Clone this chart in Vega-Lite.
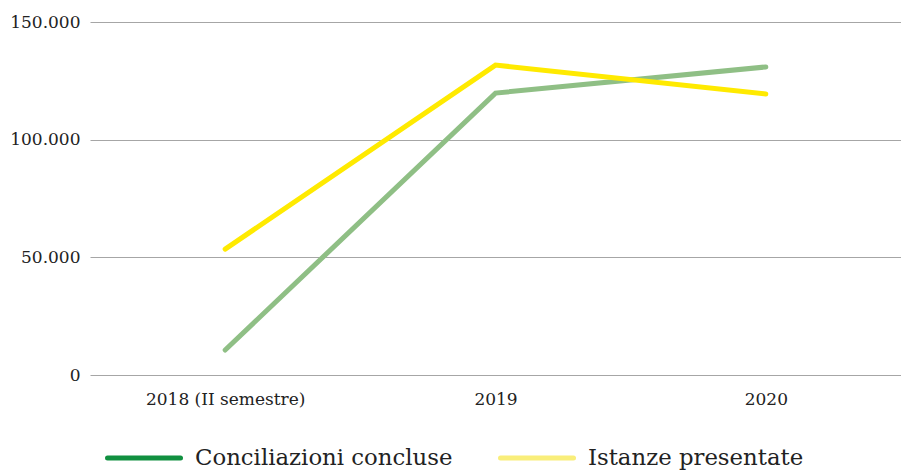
{
  "$schema": "https://vega.github.io/schema/vega-lite/v6.json",
  "width": 811,
  "height": 353,
  "autosize": "none",
  "padding": {"left": 90, "top": 22, "right": 0, "bottom": 95},
  "background": "white",
  "data": {
    "values": [
      {"anno": "2018 (II semestre)", "serie": "Conciliazioni concluse", "valore": 10600},
      {"anno": "2019", "serie": "Conciliazioni concluse", "valore": 119800},
      {"anno": "2020", "serie": "Conciliazioni concluse", "valore": 130900},
      {"anno": "2018 (II semestre)", "serie": "Istanze presentate", "valore": 53500},
      {"anno": "2019", "serie": "Istanze presentate", "valore": 131700},
      {"anno": "2020", "serie": "Istanze presentate", "valore": 119400}
    ]
  },
  "encoding": {
    "x": {
      "field": "anno", "type": "ordinal", "sort": null,
      "scale": {"type": "point", "padding": 0.5},
      "axis": {"title": null, "labelAngle": 0, "domain": false, "ticks": false, "grid": false,
               "labelPadding": 16, "labelFont": "DejaVu Serif", "labelFontSize": 17, "labelColor": "#222222"}
    },
    "y": {
      "field": "valore", "type": "quantitative",
      "scale": {"domain": [0, 150000], "nice": false},
      "axis": {"title": null, "values": [0, 50000, 100000, 150000], "domain": false, "ticks": false,
               "grid": true, "gridColor": "#a6a6a6", "gridWidth": 1,
               "labelExpr": "replace(format(datum.value, ',d'), ',', '.')",
               "labelPadding": 10, "labelFont": "DejaVu Serif", "labelFontSize": 17, "labelColor": "#222222"}
    }
  },
  "layer": [
    {
      "mark": {"type": "line", "strokeWidth": 1},
      "encoding": {
        "stroke": {
          "field": "serie", "type": "nominal",
          "scale": {"domain": ["Conciliazioni concluse", "Istanze presentate"], "range": ["#119040", "#f9ee7a"]},
          "legend": {
            "title": null, "orient": "none", "direction": "horizontal",
            "legendX": 15, "legendY": 397,
            "symbolType": "stroke", "symbolSize": 5329, "symbolStrokeWidth": 5,
            "labelFont": "DejaVu Serif", "labelFontSize": 22.8, "labelColor": "#222222", "labelLimit": 400,
            "labelOffset": 12, "columnPadding": 37,
            "encode": {"symbols": {"update": {"strokeCap": {"value": "round"}}}}
          }
        }
      }
    },
    {
      "mark": {"type": "line", "strokeWidth": 5, "strokeCap": "round", "strokeJoin": "miter"},
      "encoding": {
        "color": {
          "field": "serie", "type": "nominal",
          "scale": {"domain": ["Conciliazioni concluse", "Istanze presentate"], "range": ["#8fbf85", "#ffea00"]},
          "legend": null
        }
      }
    }
  ],
  "config": {"view": {"stroke": null}, "legend": {"labelFont": "DejaVu Serif"}}
}
